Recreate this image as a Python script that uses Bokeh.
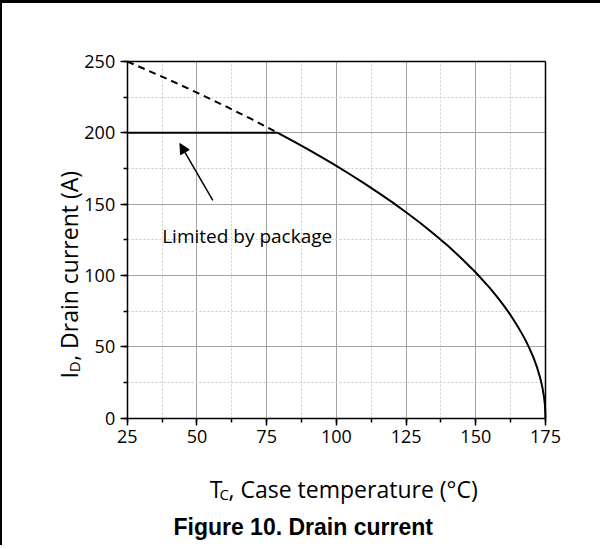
import math
from bokeh.plotting import figure
from bokeh.models import (Label, Arrow, NormalHead, SingleIntervalTicker, FixedTicker,
                          Range1d, LinearAxis, Grid)
from bokeh.embed import file_html
from bokeh.resources import INLINE

# ---- data ----
tc_limit = [25, 79]
id_limit = [200, 200]

tc_dash = [25, 30, 40, 50, 60, 70, 79]
id_dash = [250, 245.8, 237.2, 228.2, 218.9, 209.2, 200]

tc_curve = [79, 85, 90, 95, 100, 105, 110, 115, 120, 125, 130, 135, 140, 145, 150,
            155, 157.5, 160, 162.5, 165, 167, 168, 169, 170, 171, 172, 173, 173.5,
            174, 174.5, 174.8, 175]
id_curve = [200, 193.6, 188.2, 182.6, 176.8, 170.8, 164.6, 158.1, 151.4, 144.3, 137.0,
            129.1, 120.8, 111.8, 102.1, 91.3, 85.4, 79.1, 72.2, 64.5, 57.7, 54.0, 50.0,
            45.6, 40.8, 35.4, 28.9, 25.0, 20.4, 14.4, 9.1, 0]

x_bounds = (25, 175)
y_bounds = (0, 250)
x_ticks_interval = 25
y_ticks_interval = 50

annotation_text = "Limited by package"
arrow_tail = (55.7, 152.6)
arrow_tip = (43.9, 192.5)

x_label_main = "T"
x_label_sub = "C"
x_label_rest = ", Case temperature (°C)"
y_label_main = "I"
y_label_sub = "D"
y_label_rest = ", Drain current (A)"
title_text = "Figure 10. Drain current"

FONT = "Open Sans"

W, H = 600, 545
# frame covers the whole canvas; the plot box is drawn with fixed-location axes
p = figure(width=W, height=H,
           x_range=Range1d(-19.72, 195.44), y_range=Range1d(-91.32, 290.65),
           output_backend="svg", toolbar_location=None,
           min_border_left=0, min_border_right=0,
           min_border_top=0, min_border_bottom=0)
p.background_fill_color = "white"
p.border_fill_color = "white"
p.outline_line_color = None

xt = SingleIntervalTicker(interval=x_ticks_interval, num_minor_ticks=2)
yt = SingleIntervalTicker(interval=y_ticks_interval, num_minor_ticks=2)
p.xaxis.ticker = xt
p.yaxis.ticker = yt
p.xaxis.fixed_location = y_bounds[0]
p.yaxis.fixed_location = x_bounds[0]
p.xaxis.bounds = x_bounds
p.yaxis.bounds = y_bounds

for ax in (p.xaxis, p.yaxis):
    ax.axis_line_color = "black"
    ax.axis_line_width = 1.5
    ax.major_tick_line_color = "black"
    ax.major_tick_line_width = 1.5
    ax.minor_tick_line_color = "black"
    ax.minor_tick_line_width = 1.5
    ax.major_tick_out = 7
    ax.major_tick_in = 0
    ax.minor_tick_out = 4
    ax.minor_tick_in = 0
    ax.major_label_text_font = FONT
    ax.major_label_text_font_size = "18px"
    ax.major_label_text_color = "black"
    ax.major_label_standoff = 5

# top and right edges of the plot box
top_ax = LinearAxis(fixed_location=y_bounds[1], bounds=x_bounds, ticker=FixedTicker(ticks=[]),
                    axis_line_color="black", axis_line_width=1.5,
                    major_tick_out=0, major_tick_in=0, minor_tick_out=0, minor_tick_in=0,
                    major_label_text_font_size="0px")
right_ax = LinearAxis(fixed_location=x_bounds[1], bounds=y_bounds, ticker=FixedTicker(ticks=[]),
                      axis_line_color="black", axis_line_width=1.5,
                      major_tick_out=0, major_tick_in=0, minor_tick_out=0, minor_tick_in=0,
                      major_label_text_font_size="0px")
p.add_layout(top_ax, "above")
p.add_layout(right_ax, "right")

has_cross = "cross_bounds" in Grid.properties()
p.xgrid.ticker = xt
p.ygrid.ticker = yt
p.xgrid.bounds = x_bounds
p.ygrid.bounds = y_bounds
if has_cross:
    p.xgrid.cross_bounds = y_bounds
    p.ygrid.cross_bounds = x_bounds
for g in (p.xgrid, p.ygrid):
    g.grid_line_color = "#a3a3a3"
    g.grid_line_width = 1
    g.minor_grid_line_color = "#cccccc"
    g.minor_grid_line_width = 1
    g.minor_grid_line_dash = "2 2"

# curves
p.line(tc_dash, id_dash, line_color="black", line_width=2, line_dash="7 5")
p.line(tc_limit, id_limit, line_color="black", line_width=2)
p.line(tc_curve, id_curve, line_color="black", line_width=2)

# annotation
p.add_layout(Arrow(end=NormalHead(size=10, fill_color="black", line_color="black", line_width=1),
                   x_start=arrow_tail[0], y_start=arrow_tail[1],
                   x_end=arrow_tip[0], y_end=arrow_tip[1],
                   line_color="black", line_width=1.5))
p.add_layout(Label(x=37.55, y=127.4, text=annotation_text, text_font=FONT,
                   text_font_size="19px", text_baseline="alphabetic", text_align="left",
                   text_color="black"))

# x axis label (with subscript)
p.add_layout(Label(x=54.6, y=-49.9, text=x_label_main, text_font=FONT, text_font_size="23px",
                   text_baseline="alphabetic", text_align="left", text_color="black"))
p.add_layout(Label(x=58.1, y=-53.4, text=x_label_sub, text_font=FONT, text_font_size="15px",
                   text_baseline="alphabetic", text_align="left", text_color="black"))
p.add_layout(Label(x=61.35, y=-49.9, text=x_label_rest, text_font=FONT, text_font_size="23px",
                   text_baseline="alphabetic", text_align="left", text_color="black"))

# y axis label (rotated, with subscript)
p.add_layout(Label(x=4.05, y=27.8, text=y_label_main, text_font=FONT, text_font_size="23px",
                   angle=math.pi / 2, text_baseline="alphabetic", text_align="left", text_color="black"))
p.add_layout(Label(x=5.84, y=32.2, text=y_label_sub, text_font=FONT, text_font_size="15px",
                   angle=math.pi / 2, text_baseline="alphabetic", text_align="left", text_color="black"))
p.add_layout(Label(x=4.05, y=40.2, text=y_label_rest, text_font=FONT, text_font_size="23px",
                   angle=math.pi / 2, text_baseline="alphabetic", text_align="left", text_color="black"))

# figure caption
p.add_layout(Label(x=88.1, y=-76.5, text=title_text, text_font="Liberation Sans", text_font_size="23px",
                   text_font_style="bold", text_baseline="alphabetic", text_align="center",
                   text_color="black"))

p.styles = {"border-top": "3px solid black", "border-left": "2px solid black"}

open("out.html", "w").write(file_html(p, INLINE))
